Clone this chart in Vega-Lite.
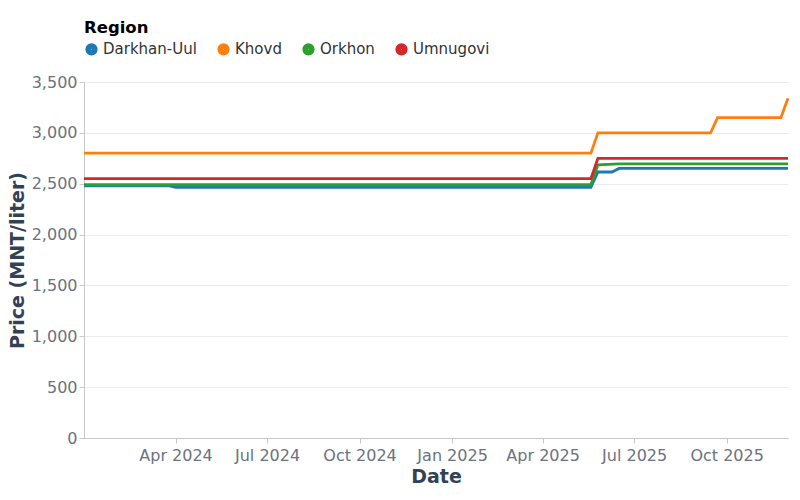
{
  "$schema": "https://vega.github.io/schema/vega-lite/v6.json",
  "width": 800,
  "height": 500,
  "autosize": {"type": "fit", "contains": "padding"},
  "padding": {"left": 8, "right": 6, "top": 20, "bottom": 14},
  "config": {
    "font": "DejaVu Sans",
    "view": {"stroke": null},
    "axis": {
      "labelFont": "DejaVu Sans",
      "labelFontSize": 16,
      "labelColor": "#6b7280",
      "titleFont": "DejaVu Sans",
      "titleFontSize": 19,
      "titleFontWeight": "bold",
      "titleColor": "#334155",
      "domainColor": "#c8c8c8",
      "tickColor": "#c8c8c8",
      "gridColor": "#ececec"
    },
    "legend": {
      "titleFontSize": 16.5,
      "titleFontWeight": "bold",
      "titleColor": "#000000",
      "labelFontSize": 15,
      "labelColor": "#333333",
      "symbolType": "circle",
      "symbolSize": 33,
      "symbolStrokeWidth": 6.5,
      "offset": 16
    }
  },
  "data": {
    "values": [
      {"date": "2024-01-01", "region": "Darkhan-Uul", "price": 2480},
      {"date": "2024-03-25", "region": "Darkhan-Uul", "price": 2480},
      {"date": "2024-04-01", "region": "Darkhan-Uul", "price": 2465},
      {"date": "2025-05-19", "region": "Darkhan-Uul", "price": 2465},
      {"date": "2025-05-26", "region": "Darkhan-Uul", "price": 2615},
      {"date": "2025-06-09", "region": "Darkhan-Uul", "price": 2615},
      {"date": "2025-06-16", "region": "Darkhan-Uul", "price": 2650},
      {"date": "2025-12-01", "region": "Darkhan-Uul", "price": 2650},
      {"date": "2024-01-01", "region": "Khovd", "price": 2800},
      {"date": "2025-05-19", "region": "Khovd", "price": 2800},
      {"date": "2025-05-26", "region": "Khovd", "price": 3000},
      {"date": "2025-09-15", "region": "Khovd", "price": 3000},
      {"date": "2025-09-22", "region": "Khovd", "price": 3150},
      {"date": "2025-11-24", "region": "Khovd", "price": 3150},
      {"date": "2025-12-01", "region": "Khovd", "price": 3340},
      {"date": "2024-01-01", "region": "Orkhon", "price": 2490},
      {"date": "2025-05-19", "region": "Orkhon", "price": 2490},
      {"date": "2025-05-26", "region": "Orkhon", "price": 2685},
      {"date": "2025-06-16", "region": "Orkhon", "price": 2695},
      {"date": "2025-12-01", "region": "Orkhon", "price": 2695},
      {"date": "2024-01-01", "region": "Umnugovi", "price": 2550},
      {"date": "2025-05-19", "region": "Umnugovi", "price": 2550},
      {"date": "2025-05-26", "region": "Umnugovi", "price": 2750},
      {"date": "2025-12-01", "region": "Umnugovi", "price": 2750}
    ]
  },
  "mark": {"type": "line", "strokeWidth": 2.8},
  "encoding": {
    "x": {
      "field": "date",
      "type": "temporal",
      "title": "Date",
      "scale": {"nice": false},
      "axis": {
        "grid": false,
        "format": "%b %Y",
        "labelOverlap": false,
        "labelPadding": 4,
        "values": [
          {"year": 2024, "month": 4, "date": 1},
          {"year": 2024, "month": 7, "date": 1},
          {"year": 2024, "month": 10, "date": 1},
          {"year": 2025, "month": 1, "date": 1},
          {"year": 2025, "month": 4, "date": 1},
          {"year": 2025, "month": 7, "date": 1},
          {"year": 2025, "month": 10, "date": 1}
        ]
      }
    },
    "y": {
      "field": "price",
      "type": "quantitative",
      "title": "Price (MNT/liter)",
      "scale": {"domain": [0, 3500]},
      "axis": {"format": ",d", "tickCount": 7}
    },
    "color": {
      "field": "region",
      "type": "nominal",
      "title": "Region",
      "scale": {"range": ["#1f77b4", "#ff7f0e", "#2ca02c", "#d62728"]},
      "legend": {"orient": "top", "direction": "horizontal"}
    }
  }
}
